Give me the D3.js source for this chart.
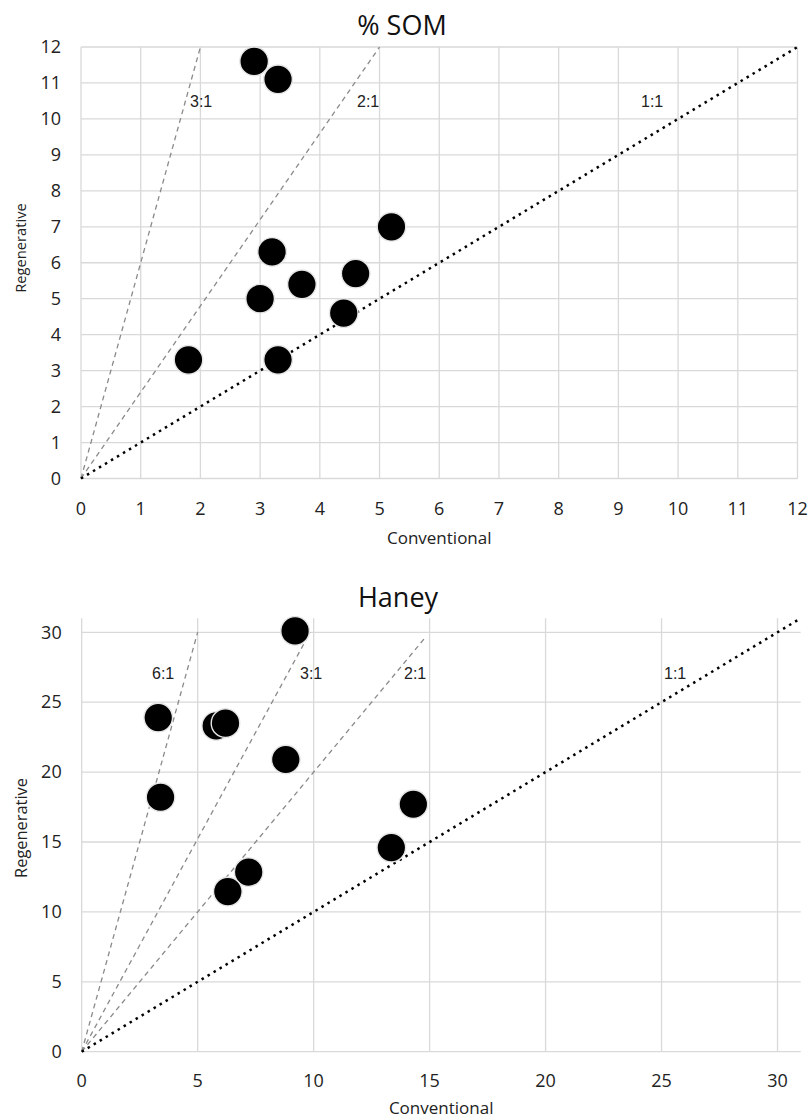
<!DOCTYPE html>
<html>
<head>
<meta charset="utf-8">
<script src="https://cdn.jsdelivr.net/npm/d3@7"></script>
<style>
  body { margin: 0; background: #fff; }
  svg { display: block; }
</style>
</head>
<body>
<svg id="chart" width="812" height="1120"></svg>
<script>
// % SOM panel
const somConventional = [2.9, 3.3, 5.2, 3.2, 3.7, 4.6, 3.0, 4.4, 1.8, 3.3];
const somRegenerative = [11.6, 11.1, 7.0, 6.3, 5.4, 5.7, 5.0, 4.6, 3.3, 3.3];
const somTicks = [0, 1, 2, 3, 4, 5, 6, 7, 8, 9, 10, 11, 12];
const somRatioLabels = ["3:1", "2:1", "1:1"];
const somRatioEndX = [2, 5, 12];
const somRatioEndY = [12, 12, 12];

// Haney panel
const haneyConventional = [9.2, 3.3, 5.8, 6.2, 8.8, 3.4, 14.3, 13.35, 7.2, 6.3];
const haneyRegenerative = [30.1, 23.9, 23.3, 23.5, 20.9, 18.2, 17.7, 14.6, 12.85, 11.45];
const haneyTicks = [0, 5, 10, 15, 20, 25, 30];
const haneyRatioLabels = ["6:1", "3:1", "2:1", "1:1"];
const haneyRatioEndX = [5, 9.85, 14.8, 31];
const haneyRatioEndY = [30, 30, 29.6, 31];

const svg = d3.select("#chart");
const font = "'Open Sans', 'Noto Sans', sans-serif";

function drawPanel(cfg) {
    const x = d3.scaleLinear().domain([0, cfg.max]).range([cfg.left, cfg.right]);
    const y = d3.scaleLinear().domain([0, cfg.max]).range([cfg.bottom, cfg.top]);
    const g = svg.append("g");

    // gridlines
    g.append("g").selectAll("line")
        .data(cfg.ticks)
        .join("line")
        .attr("x1", d => x(d)).attr("x2", d => x(d))
        .attr("y1", y(0)).attr("y2", y(cfg.max))
        .attr("stroke", "#d9d9d9").attr("stroke-width", 1.3);
    g.append("g").selectAll("line")
        .data(cfg.ticks)
        .join("line")
        .attr("x1", x(0)).attr("x2", x(cfg.max))
        .attr("y1", d => y(d)).attr("y2", d => y(d))
        .attr("stroke", "#d9d9d9").attr("stroke-width", 1.3);

    // tick labels
    g.append("g").selectAll("text")
        .data(cfg.ticks)
        .join("text")
        .attr("x", d => x(d))
        .attr("y", cfg.xTickY)
        .attr("text-anchor", "middle")
        .attr("font-family", font).attr("font-size", 18).attr("fill", "#222")
        .text(d => d);
    g.append("g").selectAll("text")
        .data(cfg.ticks)
        .join("text")
        .attr("x", x(0) - 20)
        .attr("y", d => y(d))
        .attr("dy", "0.35em")
        .attr("text-anchor", "end")
        .attr("font-family", font).attr("font-size", 18).attr("fill", "#222")
        .text(d => d);

    // ratio lines
    const ratios = cfg.labels.map((l, i) => ({ label: l, ex: cfg.endX[i], ey: cfg.endY[i] }));
    g.append("g").selectAll("line")
        .data(ratios)
        .join("line")
        .attr("x1", x(0)).attr("y1", y(0))
        .attr("x2", d => x(d.ex)).attr("y2", d => y(d.ey))
        .attr("stroke", d => d.label === "1:1" ? "#000" : "#8a8a8a")
        .attr("stroke-width", d => d.label === "1:1" ? 2.5 : 1.3)
        .attr("stroke-dasharray", d => d.label === "1:1" ? "2.5,4.5" : "5,4");

    g.append("g").selectAll("text")
        .data(ratios)
        .join("text")
        .attr("x", (d, i) => cfg.labelLeft[i])
        .attr("y", cfg.labelBase)
        .attr("font-family", "'Liberation Sans', Arial, sans-serif")
        .attr("font-size", 16).attr("fill", "#222")
        .text(d => d.label);

    // points
    const pts = cfg.cx.map((v, i) => ({ cx: v, cy: cfg.cy[i] }));
    g.append("g").selectAll("circle")
        .data(pts)
        .join("circle")
        .attr("cx", d => x(d.cx))
        .attr("cy", d => y(d.cy))
        .attr("r", 14.3)
        .attr("fill", "#000")
        .attr("stroke", "#e6e6e6")
        .attr("stroke-width", 1.4);

    // titles
    g.append("text")
        .attr("x", cfg.titleX).attr("y", cfg.titleY)
        .attr("text-anchor", "middle")
        .attr("font-family", font).attr("font-size", 27).attr("fill", "#111")
        .text(cfg.title);
    g.append("text")
        .attr("x", (cfg.left + cfg.right) / 2).attr("y", cfg.xTitleY)
        .attr("text-anchor", "middle")
        .attr("font-family", font).attr("font-size", 17).attr("fill", "#222")
        .text("Conventional");
    g.append("text")
        .attr("transform", `translate(${cfg.yTitleX},${cfg.yTitleMid}) rotate(-90)`)
        .attr("text-anchor", "middle")
        .attr("font-family", font).attr("font-size", cfg.yTitleSize).attr("fill", "#222")
        .text("Regenerative");
}

drawPanel({
    title: "% SOM", titleX: 402, titleY: 35,
    max: 12, ticks: somTicks,
    left: 81, right: 797.5, top: 47, bottom: 478.5,
    xTickY: 515, xTitleY: 544,
    yTitleX: 26, yTitleMid: 248, yTitleSize: 14.7,
    cx: somConventional, cy: somRegenerative,
    labels: somRatioLabels, endX: somRatioEndX, endY: somRatioEndY,
    labelLeft: [190, 357, 641], labelBase: 107
});

drawPanel({
    title: "Haney", titleX: 398, titleY: 607,
    max: 31, ticks: haneyTicks,
    left: 81.7, right: 800.7, top: 618.3, bottom: 1051.7,
    xTickY: 1087, xTitleY: 1114,
    yTitleX: 27, yTitleMid: 828, yTitleSize: 16.4,
    cx: haneyConventional, cy: haneyRegenerative,
    labels: haneyRatioLabels, endX: haneyRatioEndX, endY: haneyRatioEndY,
    labelLeft: [152, 300, 404, 664], labelBase: 679
});
</script>
</body>
</html>
